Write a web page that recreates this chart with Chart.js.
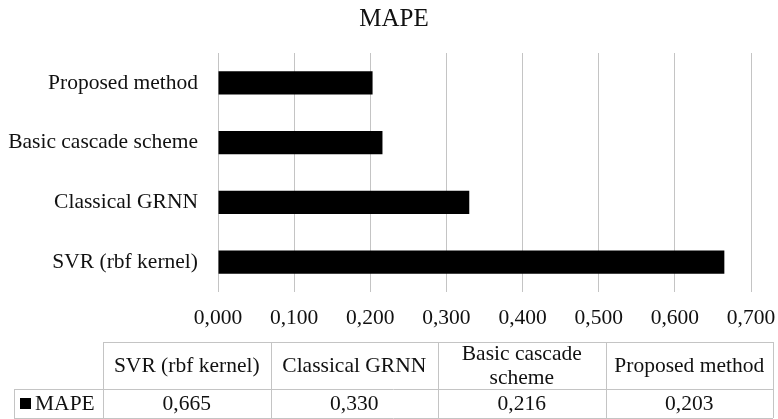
<!DOCTYPE html>
<html>
<head>
<meta charset="utf-8">
<script src="https://cdn.jsdelivr.net/npm/chart.js@4/dist/chart.umd.min.js"></script>
<style>
  html, body { margin: 0; padding: 0; background: #ffffff; }
  #wrap { width: 778px; height: 419px; position: relative; }
</style>
</head>
<body>
<div id="wrap"><canvas id="chart" width="778" height="419"></canvas></div>
<script>
// Methods compared, values of the error metric, and x-axis tick values
const methods = ['SVR (rbf kernel)', 'Classical GRNN', 'Basic cascade scheme', 'Proposed method'];
const mapeValues = [0.665, 0.330, 0.216, 0.203];
const seriesName = 'MAPE';
const xTicks = [0, 0.1, 0.2, 0.3, 0.4, 0.5, 0.6, 0.7];

const FONT = '"Liberation Serif", "Times New Roman", serif';
const TEXT = '#111111';
const LINE = '#c4c4c4';

const fmt = v => v.toFixed(3).replace('.', ',');

// Chart heading, centred a little right of the canvas middle
const heading = {
  id: 'heading',
  afterDraw(chart) {
    const ctx = chart.ctx;
    ctx.save();
    ctx.fillStyle = TEXT;
    ctx.font = '25px ' + FONT;
    ctx.textAlign = 'center';
    ctx.textBaseline = 'alphabetic';
    ctx.fillText(seriesName, 394, 26);
    ctx.restore();
  }
};

// Data table drawn under the axis: one header row with the methods, one row with values
const dataTable = {
  id: 'dataTable',
  afterDraw(chart) {
    const ctx = chart.ctx;
    const labels = chart.data.labels;
    const ds = chart.data.datasets[0];
    const left = 14, keyRight = 103, right = 773;
    const top = 342, mid = 389, bottom = 418;
    const colW = (right - keyRight) / labels.length;

    ctx.save();
    ctx.strokeStyle = LINE;
    ctx.lineWidth = 1;
    ctx.beginPath();
    // header row frame (no key cell)
    ctx.moveTo(keyRight, top + 0.5); ctx.lineTo(right, top + 0.5);
    ctx.moveTo(left, mid + 0.5); ctx.lineTo(right, mid + 0.5);
    ctx.moveTo(left, bottom + 0.5); ctx.lineTo(right, bottom + 0.5);
    ctx.moveTo(left + 0.5, mid); ctx.lineTo(left + 0.5, bottom);
    for (let i = 0; i <= labels.length; i++) {
      const x = Math.round(keyRight + i * colW) + 0.5;
      ctx.moveTo(x, top); ctx.lineTo(x, bottom);
    }
    ctx.stroke();

    ctx.fillStyle = TEXT;
    ctx.font = '21.5px ' + FONT;
    ctx.textAlign = 'center';
    ctx.textBaseline = 'middle';
    labels.forEach((lab, i) => {
      const cx = keyRight + (i + 0.5) * colW;
      // wrap header text that does not fit its column
      const words = lab.split(' ');
      const lines = [];
      let cur = '';
      words.forEach(w => {
        const t = cur ? cur + ' ' + w : w;
        if (ctx.measureText(t).width > colW - 10 && cur) { lines.push(cur); cur = w; }
        else cur = t;
      });
      lines.push(cur);
      const lh = 24;
      const cy = (top + mid) / 2 + 1;
      lines.forEach((ln, k) => {
        ctx.fillText(ln, cx, cy + (k - (lines.length - 1) / 2) * lh);
      });
      ctx.fillText(fmt(ds.data[i]), cx, (mid + bottom) / 2 + 1);
    });

    // legend key + series name
    ctx.fillStyle = ds.backgroundColor;
    ctx.fillRect(20, 398, 11, 11);
    ctx.fillStyle = TEXT;
    ctx.textAlign = 'left';
    ctx.fillText(ds.label, 35, (mid + bottom) / 2 + 1);
    ctx.restore();
  }
};

new Chart(document.getElementById('chart'), {
  type: 'bar',
  data: {
    labels: methods,
    datasets: [{
      label: seriesName,
      data: mapeValues,
      backgroundColor: '#000000',
      borderWidth: 0,
      categoryPercentage: 1.0,
      barPercentage: 0.385
    }]
  },
  options: {
    indexAxis: 'y',
    responsive: false,
    animation: false,
    layout: { padding: { left: 0, right: 27, top: 53, bottom: 87 } },
    plugins: {
      legend: { display: false },
      tooltip: { enabled: false },
      title: { display: false }
    },
    scales: {
      x: {
        min: 0,
        max: 0.7,
        afterBuildTicks(scale) { scale.ticks = xTicks.map(v => ({ value: v })); },
        afterFit(scale) {
          scale.height = 40;
          scale.paddingLeft = 0;
          scale.paddingRight = 0;
        },
        grid: { color: LINE, lineWidth: 1, drawTicks: false },
        border: { display: false },
        ticks: {
          padding: 13,
          color: TEXT,
          font: { family: FONT, size: 21.5 },
          callback: v => fmt(v)
        }
      },
      y: {
        reverse: true,
        afterFit(scale) { scale.width = 218; },
        grid: { display: false, drawTicks: false },
        border: { display: false },
        ticks: {
          padding: 20,
          autoSkip: false,
          color: TEXT,
          font: { family: FONT, size: 21.5 }
        }
      }
    }
  },
  plugins: [heading, dataTable]
});
</script>
</body>
</html>
